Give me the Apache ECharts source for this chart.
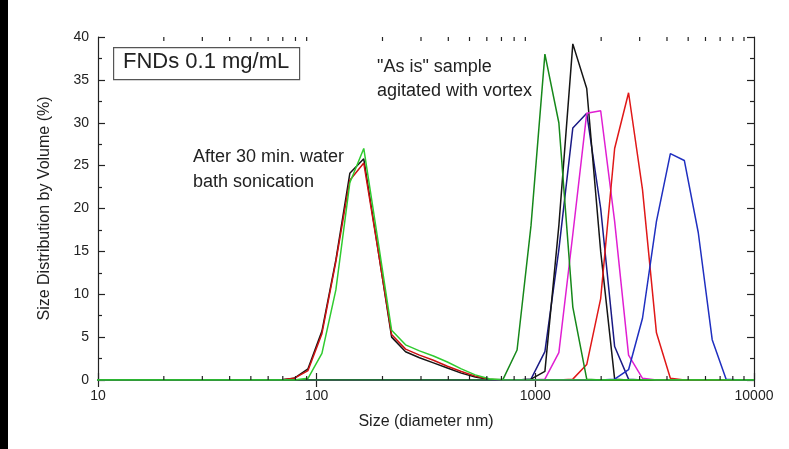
<!DOCTYPE html>
<html>
<head>
<meta charset="utf-8">
<script src="https://cdn.jsdelivr.net/npm/echarts@6/dist/echarts.min.js"></script>
<style>
html,body{margin:0;padding:0;background:#fff;}
#c{width:789px;height:449px;}
</style>
</head>
<body>
<div id="c"></div>
<script>
// Size bins (nm)
const sizes = [8.721, 10.10, 11.70, 13.54, 15.69, 18.17, 21.04, 24.36, 28.21, 32.67, 37.84, 43.82, 50.75, 58.77, 68.06,
  78.82, 91.28, 105.7, 122.4, 141.8, 164.2, 190.1, 220.2, 255.0, 295.3, 342.0, 396.1, 458.7, 531.2, 615.1,
  712.4, 825.0, 955.4, 1106, 1281, 1484, 1718, 1990, 2305, 2669, 3091, 3580, 4145, 4801, 5560, 6439, 7456, 8635, 10000];

// After 30 min water bath sonication
const sonicBlack = [0,0,0,0,0,0,0,0,0,0,0,0,0,0,0,
  0.2,1.3,5.7,14.0,24.1,25.8,15.5,5.0,3.3,2.6,2.0,1.4,0.8,0.35,0.05,
  0,0,0,0,0,0,0,0,0,0,0,0,0,0,0,0,0,0,0];
const sonicRed = [0,0,0,0,0,0,0,0,0,0,0,0,0,0,0,
  0.2,1.1,5.4,13.8,23.3,25.3,15.4,5.3,3.6,2.9,2.3,1.6,1.0,0.45,0.1,
  0,0,0,0,0,0,0,0,0,0,0,0,0,0,0,0,0,0,0];
const sonicGreen = [0,0,0,0,0,0,0,0,0,0,0,0,0,0,0,
  0,0.2,3.1,10.5,23.0,27.0,16.5,5.8,4.1,3.4,2.8,2.1,1.3,0.6,0.15,
  0,0,0,0,0,0,0,0,0,0,0,0,0,0,0,0,0,0,0];

// "As is" sample agitated with vortex
const vortexDarkGreen = [0,0,0,0,0,0,0,0,0,0,0,0,0,0,0,0,0,0,0,0,0,0,0,0,0,0,0,0,0,0,
  0.1,3.5,18,38.0,30.0,8.5,0.1,0,0,0,0,0,0,0,0,0,0,0,0];
const vortexBlack = [0,0,0,0,0,0,0,0,0,0,0,0,0,0,0,0,0,0,0,0,0,0,0,0,0,0,0,0,0,0,
  0,0,0.1,1.0,18,39.2,34.0,15,0.1,0,0,0,0,0,0,0,0,0,0];
const vortexNavy = [0,0,0,0,0,0,0,0,0,0,0,0,0,0,0,0,0,0,0,0,0,0,0,0,0,0,0,0,0,0,
  0,0,0.1,3.3,15.2,29.4,31.1,20,3.9,0.1,0,0,0,0,0,0,0,0,0];
const vortexMagenta = [0,0,0,0,0,0,0,0,0,0,0,0,0,0,0,0,0,0,0,0,0,0,0,0,0,0,0,0,0,0,
  0,0,0,0.1,3.2,17,31.1,31.4,18.5,2.9,0.2,0,0,0,0,0,0,0,0];
const vortexRed = [0,0,0,0,0,0,0,0,0,0,0,0,0,0,0,0,0,0,0,0,0,0,0,0,0,0,0,0,0,0,
  0,0,0,0,0,0.1,1.8,9.5,27.0,33.5,22.2,5.5,0.2,0,0,0,0,0,0];
const vortexBlue = [0,0,0,0,0,0,0,0,0,0,0,0,0,0,0,0,0,0,0,0,0,0,0,0,0,0,0,0,0,0,
  0,0,0,0,0,0,0,0,0.1,1.2,7.2,18.5,26.4,25.6,17.2,4.7,0.1,0,0];

const xMinorTicks = [20,30,40,50,60,70,80,90,200,300,400,500,600,700,800,900,2000,3000,4000,5000,6000,7000,8000,9000];
const yMin = 0, yMax = 40;

const FONT = 'Liberation Sans, Arial, Helvetica, sans-serif';
const chart = echarts.init(document.getElementById('c'), null, {renderer: 'canvas'});

function line(name, arr, color, w) {
  return {
    name: name, type: 'line', xAxisIndex: 0, yAxisIndex: 0,
    data: sizes.map((s, i) => [s, arr[i]]),
    showSymbol: false, symbol: 'none', clip: true, animation: false,
    lineStyle: {color: color, width: w || 1.5},
    itemStyle: {color: color}
  };
}

const axisLine = {show: true, lineStyle: {color: '#222', width: 1.2}};

chart.setOption({
  animation: false,
  backgroundColor: '#fff',
  grid: {left: 98, right: 35, top: 37, bottom: 69, containLabel: false},
  xAxis: [{
    type: 'log', logBase: 10, min: 10, max: 10000, position: 'bottom',
    axisLine: axisLine,
    axisTick: {show: true, inside: true, length: 7, lineStyle: {color: '#222', width: 1.2}},
    minorTick: {show: false},
    splitLine: {show: false},
    axisLabel: {color: '#222', fontSize: 14, fontFamily: FONT, margin: 9,
      formatter: v => String(Math.round(v))},
    name: 'Size (diameter nm)', nameLocation: 'middle', nameGap: 34,
    nameTextStyle: {color: '#222', fontSize: 16, fontFamily: FONT}
  }, {
    type: 'log', logBase: 10, min: 10, max: 10000, position: 'top',
    axisLine: axisLine,
    axisTick: {show: true, inside: true, length: 7, lineStyle: {color: '#222', width: 1.2}},
    axisLabel: {show: false}, splitLine: {show: false}
  }],
  yAxis: [{
    type: 'value', min: yMin, max: yMax, interval: 5, position: 'left',
    axisLine: axisLine,
    axisTick: {show: true, inside: true, length: 7, lineStyle: {color: '#222', width: 1.2}},
    minorTick: {show: true, splitNumber: 2, length: 4, lineStyle: {color: '#222', width: 1.2}},
    splitLine: {show: false},
    axisLabel: {color: '#222', fontSize: 14, fontFamily: FONT, margin: 9},
    name: 'Size Distribution by Volume (%)', nameLocation: 'middle', nameGap: 45, nameRotate: 90,
    nameTextStyle: {color: '#222', fontSize: 16, fontFamily: FONT}
  }, {
    type: 'value', min: yMin, max: yMax, interval: 5, position: 'right',
    axisLine: axisLine,
    axisTick: {show: true, inside: true, length: 7, lineStyle: {color: '#222', width: 1.2}},
    minorTick: {show: true, splitNumber: 2, length: 4, lineStyle: {color: '#222', width: 1.2}},
    splitLine: {show: false},
    axisLabel: {show: false}
  }],
  series: [
    line('vortexNavy', vortexNavy, '#1a1a85'),
    line('sonicBlack', sonicBlack, '#151515'),
    line('sonicRed', sonicRed, '#cc1111'),
    line('vortexBlack', vortexBlack, '#151515'),
    line('vortexMagenta', vortexMagenta, '#e01fd2'),
    line('vortexRed', vortexRed, '#e01818'),
    line('vortexBlue', vortexBlue, '#1f2fc0'),
    line('vortexDarkGreen', vortexDarkGreen, '#16881a'),
    line('sonicGreen', sonicGreen, '#2fcb2f'),
    {
      type: 'custom', xAxisIndex: 0, yAxisIndex: 0, silent: true, animation: false, z: 5, clip: false,
      data: xMinorTicks.map(v => [v, yMin]),
      renderItem: function (params, api) {
        const v = api.value(0);
        const b = api.coord([v, yMin]);
        const t = api.coord([v, yMax]);
        const st = {stroke: '#222', lineWidth: 1.2};
        return {type: 'group', children: [
          {type: 'line', shape: {x1: b[0], y1: b[1], x2: b[0], y2: b[1] - 4}, style: st},
          {type: 'line', shape: {x1: t[0], y1: t[1], x2: t[0], y2: t[1] + 4}, style: st}
        ]};
      }
    }
  ],
  graphic: [
    {type: 'rect', left: 0, top: 0, shape: {width: 8, height: 449}, style: {fill: '#000'}, silent: true},
    {type: 'rect', left: 113, top: 47, shape: {width: 186, height: 32},
      style: {fill: '#fff', stroke: '#555', lineWidth: 1.2}, z: 10},
    {type: 'text', left: 123, top: 51, z: 11,
      style: {text: 'FNDs 0.1 mg/mL', font: '22px ' + FONT, fill: '#222'}},
    {type: 'text', left: 377, top: 55, z: 11,
      style: {text: '"As is" sample\nagitated with vortex', font: '18px ' + FONT, fill: '#222', lineHeight: 24}},
    {type: 'text', left: 193, top: 145, z: 11,
      style: {text: 'After 30 min. water\nbath sonication', font: '18px ' + FONT, fill: '#222', lineHeight: 25}}
  ]
});
</script>
</body>
</html>
